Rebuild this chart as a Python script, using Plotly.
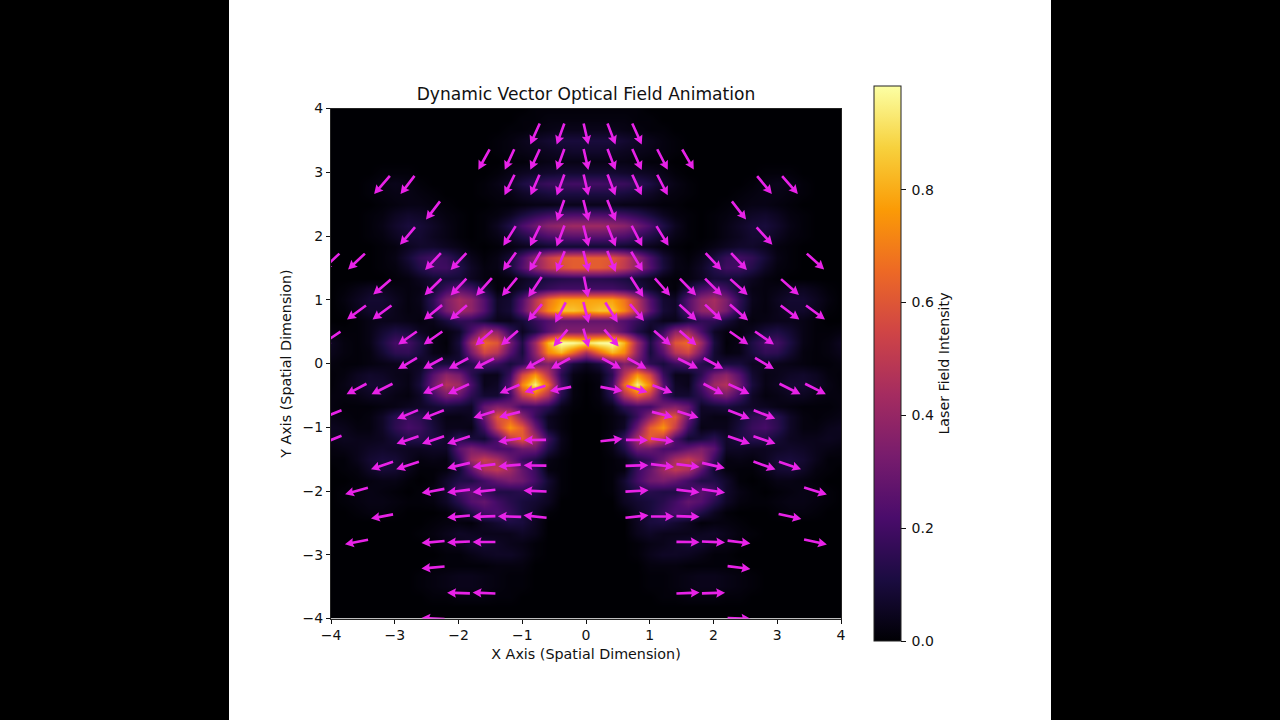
import math
import plotly.graph_objects as go

title_text = "Dynamic Vector Optical Field Animation"
x_title = "X Axis (Spatial Dimension)"
y_title = "Y Axis (Spatial Dimension)"
cbar_title = "Laser Field Intensity"
axis_ticks = [-4, -3, -2, -1, 0, 1, 2, 3, 4]
cbar_ticks = [0.0, 0.2, 0.4, 0.6, 0.8]

# Right half of the intensity picture, in percent; the left half mirrors it.
half_x = [0, .2, .4, .6, .8, 1, 1.2, 1.4, 1.6, 1.8, 2, 2.2, 2.4, 2.6, 2.8, 3, 3.2, 3.4, 3.6, 3.8, 4]
rows_y = [4, 3.83, 3.67, 3.5, 3.33, 3.17, 3, 2.83, 2.67, 2.5, 2.33, 2.17, 2, 1.83, 1.67, 1.5, 1.33, 1.17, 1, .83, .67, .5, .33, .17, 0,
          -.17, -.33, -.5, -.67, -.83, -1, -1.17, -1.33, -1.5, -1.67, -1.83, -2, -2.17, -2.33, -2.5, -2.67, -2.83, -3, -3.17, -3.33, -3.5, -3.67, -3.83, -4]
intensity_pct = [
 [1,1,1,1,1,0,0,0,0,0,0,0,0,0,0,0,0,0,0,0,0],
 [2,2,2,2,1,1,0,0,0,0,0,0,0,0,0,0,0,0,0,0,0],
 [4,4,4,3,2,1,1,0,0,0,0,0,0,0,0,0,0,0,0,0,0],
 [10,10,10,8,6,4,2,1,0,0,0,0,0,0,0,0,0,0,0,0,0],
 [7,7,6,5,4,3,2,1,0,0,0,0,0,0,0,0,0,0,0,0,0],
 [3,3,3,3,2,1,1,0,0,0,0,0,0,0,0,0,0,0,0,0,0],
 [8,8,8,7,6,5,3,1,0,0,0,0,0,0,1,1,1,0,0,0,0],
 [20,20,19,18,15,11,6,3,1,0,0,0,0,1,3,4,3,1,0,0,0],
 [11,11,11,10,8,6,3,2,1,0,0,0,1,2,3,3,2,1,0,0,0],
 [4,4,4,3,3,2,1,1,0,0,0,1,2,3,3,2,1,0,0,0,0],
 [22,22,21,19,15,10,5,2,1,0,1,2,4,6,7,5,2,1,0,0,0],
 [42,42,40,37,30,22,12,5,1,0,1,3,6,9,10,7,3,1,0,0,0],
 [25,25,24,22,17,12,7,3,1,0,1,3,5,8,8,5,2,1,0,0,0],
 [8,8,8,7,5,4,2,1,0,1,3,5,7,7,5,2,1,0,0,0,0],
 [62,62,60,52,38,22,9,3,1,4,10,17,20,16,9,3,1,0,0,0,0],
 [62,62,58,50,38,24,10,3,2,6,13,19,19,13,6,2,1,0,0,0,0],
 [14,14,13,11,8,5,2,1,2,5,9,9,8,5,2,1,0,0,0,0,0],
 [20,20,20,17,12,7,3,1,10,20,25,18,8,3,2,3,5,5,3,1,0],
 [78,78,78,68,48,24,8,6,24,38,44,34,16,4,2,5,8,8,5,2,0],
 [80,85,84,72,50,26,9,6,24,38,42,32,14,3,2,4,7,7,4,1,0],
 [28,28,28,24,17,9,4,4,10,16,16,10,4,2,3,4,4,3,1,0,0],
 [35,35,35,25,12,5,18,38,42,22,6,2,2,5,10,12,8,3,1,1,2],
 [92,98,100,82,42,12,32,60,66,42,10,1,3,12,20,20,11,3,1,2,5],
 [45,65,82,72,38,10,25,48,55,32,8,2,3,10,16,15,8,2,1,2,4],
 [5,10,22,35,28,15,10,18,22,14,8,10,10,5,5,4,3,2,1,1,2],
 [1,3,15,48,75,55,18,4,4,15,32,38,25,8,3,4,6,7,5,2,1],
 [0,2,20,65,95,72,25,6,4,22,42,47,30,10,3,5,8,8,6,3,1],
 [0,2,14,45,62,50,20,8,8,15,28,32,20,6,2,3,5,5,3,2,2],
 [0,1,4,15,20,20,32,36,28,6,8,10,8,6,5,3,2,1,1,1,2],
 [0,0,2,5,18,38,60,60,30,5,3,3,8,15,18,14,6,2,1,2,3],
 [0,0,2,6,30,62,75,52,20,3,4,4,10,18,21,15,6,2,2,4,5],
 [0,0,4,18,45,62,50,22,8,10,15,7,11,14,13,9,5,4,4,5,4],
 [0,0,3,12,30,30,22,22,28,34,26,6,6,5,5,6,7,6,4,3,2],
 [0,0,1,3,12,18,30,45,52,42,18,2,3,2,5,9,10,8,4,1,1],
 [0,0,1,2,18,28,42,50,45,26,8,2,1,1,4,8,9,6,2,1,0],
 [0,0,1,8,20,30,33,28,20,12,12,7,1,0,1,3,3,2,1,0,0],
 [0,0,1,6,12,14,12,12,18,26,20,7,3,1,0,1,2,3,2,1,0],
 [0,0,0,5,8,10,14,20,28,24,14,6,2,1,1,2,3,3,2,1,0],
 [0,0,0,1,6,10,17,22,20,12,5,1,0,0,0,1,2,2,1,0,0],
 [0,0,0,0,5,10,11,8,5,1,2,2,1,0,0,0,0,0,0,0,0],
 [0,0,0,0,4,6,4,4,4,5,6,4,2,1,0,0,0,0,0,0,0],
 [0,0,0,0,1,3,4,6,8,7,4,3,1,0,0,0,0,0,0,0,0],
 [0,0,0,0,1,4,6,6,5,3,1,1,0,0,0,0,0,0,0,0,0],
 [0,0,0,0,0,2,2,2,1,1,1,1,1,0,0,0,0,0,0,0,0],
 [0,0,0,0,0,1,1,2,3,4,4,3,2,1,0,0,0,0,0,0,0],
 [0,0,0,0,0,1,1,2,3,4,4,3,2,1,0,0,0,0,0,0,0],
 [0,0,0,0,0,0,1,1,2,2,2,1,1,0,0,0,0,0,0,0,0],
 [0,0,0,0,0,0,0,0,0,0,0,0,0,0,0,0,0,0,0,0,0],
 [0,0,0,0,0,0,0,0,0,0,0,0,0,0,0,0,0,0,0,0,0],
]

# Vector field, one entry per arrow, row by row from the top of the picture.
arrow_x = [-.8,-.4,0,.4,.8,
 -1.6,-1.2,-.8,-.4,0,.4,.8,1.2,1.6,
 -3.2,-2.8,-1.2,-.8,-.4,0,.4,.8,1.2,2.8,3.2,
 -2.4,-.4,0,.4,2.4,
 -2.8,-1.2,-.8,-.4,0,.4,.8,1.2,2.8,
 -4,-3.6,-2.4,-2,-1.2,-.8,-.4,0,.4,.8,2,2.4,3.6,
 -3.2,-2.4,-2,-1.6,-1.2,-.8,0,.8,1.2,1.6,2,2.4,3.2,
 -3.6,-3.2,-2.4,-2,-.8,-.4,0,.4,.8,1.6,2,2.4,3.2,3.6,
 -4,-2.8,-2.4,-1.6,-1.2,-.4,0,.4,1.2,1.6,2.4,2.8,
 -2.8,-2.4,-2,-1.6,-.8,-.4,.4,.8,1.6,2,2.8,
 -3.6,-3.2,-2.4,-2,-1.2,-.8,-.4,.4,.8,1.2,2,2.4,3.2,3.6,
 -4,-2.8,-2.4,-1.6,-1.2,1.2,1.6,2.4,2.8,
 -4,-2.8,-2.4,-2,-1.2,-.8,.4,.8,1.2,2.4,2.8,
 -3.2,-2.8,-2,-1.6,-1.2,-.8,.8,1.2,1.6,2,2.8,3.2,
 -3.6,-2.4,-2,-1.6,-.8,.8,1.6,2,3.6,
 -3.2,-2,-1.6,-1.2,-.8,.8,1.2,1.6,3.2,
 -3.6,-2.4,-2,-1.6,1.6,2,2.4,3.6,
 -2.4,2.4,
 -2,-1.6,1.6,2,
 -2.4,2.4]
arrow_y = [3.6]*5 + [3.2]*9 + [2.8]*11 + [2.4]*5 + [2.0]*9 + [1.6]*13 + [1.2]*13 + [.8]*14 + [.4]*12 + [0]*11 + \
 [-.4]*14 + [-.8]*9 + [-1.2]*11 + [-1.6]*12 + [-2.0]*9 + [-2.4]*9 + [-2.8]*8 + [-3.2]*2 + [-3.6]*4 + [-4.0]*2
arrow_u = [-9,-7.3,4.5,7.6,9,
 -10.7,-9,-9,-7.3,4.5,7.6,9,10,11,
 -15,-13.3,-9.5,-8.5,-7.3,4.5,7.5,9,10,14,15,
 -13.3,-7,5,8,13.5,
 -14.3,-11.7,-9.5,-7.5,5,8,10,11.5,15,
 -16,-16,-15,-15,-12.3,-10.7,-8,5,8,11,15,15,16.5,
 -16.7,-16,-15,-15,-14.3,-12.7,4,12,14.5,15.5,16,16.5,17,
 -18,-18,-17.3,-16,-13.3,-10,5,11.7,13.3,16.3,16,17.3,17.7,18,
 -18,-17.7,-17.7,-16.3,-16,-13.3,5,13.7,16,16,17.7,18,
 -18,-18.5,-18.5,-19,-18,-18,18,18,19,18.5,18,
 -19,-20,-19,-20,-19,-20,-20.3,21,20,19,19,20,20,19.7,
 -20,-20,-20.7,-20,-20,20,20,20.5,20.5,
 -20,-21,-21,-21.7,-21.7,-21,21,21,22,21,21,
 -21,-21.7,-21.7,-21.7,-21.3,-21.7,21.7,22,22,21.7,21,21,
 -21.7,-21.7,-21.7,-21.7,-22,22,22,22,21.7,
 -21,-21.7,-21.7,-22.3,-22,22,22,22,21.7,
 -22,-22,-21.7,-21.7,22,22,21.7,21.7,
 -22,21.7,
 -21.7,-21.7,22,22,
 -22,21.7]
arrow_v = [-20,-20,-20,-20,-20,
 -19.3,-19.5,-19.5,-20,-20,-20,-20,-19.5,-19,
 -17.3,-17.3,-19.5,-19.5,-20,-20,-20,-19.5,-19.5,-17,-17,
 -17.3,-20,-20,-20,-17.3,
 -16.7,-18.7,-19.5,-20,-20,-20,-19.5,-18.7,-16.5,
 -15,-15,-16,-16,-17.3,-18.3,-19.5,-20,-20,-18.5,-16,-16,-15,
 -14.3,-15.7,-16,-16.7,-17.3,-19,-20,-19,-16.5,-16,-16,-15,-15,
 -13.3,-13.3,-14,-14,-16,-19.3,-20,-19,-16,-15,-15,-15,-13.3,-13.3,
 -12,-12.3,-12.3,-14.3,-14,-16,-18,-16,-14,-14,-12.3,-12.3,
 -10.5,-10,-10,-9.5,-10,-10,-10,-10,-9.5,-10,-10.5,
 -10,-10,-8.7,-9.3,-8,-6,-4,-4,-6,-7,-10,-9.3,-10,-10,
 -8,-8.3,-8,-6,-5,-5,-6,-8,-8,
 -8,-7,-7,-7,-3.3,-.3,2.3,-.3,-2.7,-7,-7,
 -7,-7,-5,-2.7,-1.7,.3,.7,-2.7,-2.7,-5,-7.7,-7,
 -6,-4,-2.7,-2.3,1,1.3,-2.7,-3.3,-6.7,
 -4,-2,-.7,.7,2.3,2.3,0,-.7,-4.7,
 -4.3,-2,-1,0,-.3,-1,-2.7,-4.7,
 -2,-2.7,
 .7,1,1,.7,
 1,-.7]

quiver_scale = 0.0165   # data units per vector unit
head_length = 7.5
head_half_width = 4.5
shaft_half_width = 1.25
arrow_color = "#e822e8"

full_x = [-v for v in half_x[::-1][:-1]] + half_x
full_z = [[p / 100 for p in (row[::-1][:-1] + row)] for row in intensity_pct]

# Build quiver polygons (pivot at the middle of each arrow).
poly_x, poly_y = [], []
for x0, y0, u, v in zip(arrow_x, arrow_y, arrow_u, arrow_v):
    n = math.hypot(u, v)
    ex, ey = u / n, v / n
    px, py = -ey, ex
    outline = [(-n / 2, shaft_half_width), (n / 2 - head_length, shaft_half_width),
               (n / 2 - head_length - 1.0, head_half_width), (n / 2, 0),
               (n / 2 - head_length - 1.0, -head_half_width), (n / 2 - head_length, -shaft_half_width),
               (-n / 2, -shaft_half_width), (-n / 2, shaft_half_width)]
    for a, b in outline:
        poly_x.append(x0 + (a * ex + b * px) * quiver_scale)
        poly_y.append(y0 + (a * ey + b * py) * quiver_scale)
    poly_x.append(None)
    poly_y.append(None)

W, H = 1280, 720
font = "DejaVu Sans"

fig = go.Figure()
fig.add_trace(go.Heatmap(
    x=full_x, y=rows_y, z=full_z, colorscale="Inferno", zmin=0, zmax=0.984,
    zsmooth="best", hoverinfo="skip",
    colorbar=dict(
        x=874 / W, xanchor="left", xpad=0, y=(720 - 641) / H, yanchor="bottom", ypad=0,
        thickness=27, thicknessmode="pixels", len=555, lenmode="pixels",
        outlinecolor="#222", outlinewidth=1,
        tickvals=cbar_ticks, ticktext=[f"\u2009{t:.1f}" for t in cbar_ticks],
        ticks="outside", ticklen=5, tickcolor="#111", tickwidth=1,
        tickfont=dict(family=font, size=14, color="#111"),
        title=dict(text=cbar_title, side="right", font=dict(family=font, size=14.2, color="#111")),
    ),
))
fig.add_trace(go.Scatter(
    x=poly_x, y=poly_y, mode="lines", fill="toself", fillcolor=arrow_color,
    line=dict(width=0, color=arrow_color), hoverinfo="skip", showlegend=False,
))

axis_common = dict(
    range=[-4, 4], tickvals=axis_ticks, ticks="outside", ticklen=4, tickwidth=1, tickcolor="#111",
    showgrid=False, zeroline=False, showline=True, linecolor="#222", linewidth=1, mirror=True,
    tickfont=dict(family=font, size=14, color="#111"),
)
fig.update_layout(
    width=W, height=H, margin=dict(l=0, r=0, t=0, b=0, autoexpand=False), autosize=False,
    paper_bgcolor="#000000", plot_bgcolor="#000004",
    font=dict(family=font, color="#111"), showlegend=False,
    shapes=[dict(type="rect", xref="paper", yref="paper", x0=229 / W, x1=1051 / W, y0=0, y1=1,
                 fillcolor="#ffffff", line=dict(width=0), layer="below")],
    title=dict(text=title_text, x=586 / W, xanchor="center", y=1 - 94 / H, yanchor="middle",
               font=dict(family=font, size=17.1, color="#111")),
    xaxis=dict(axis_common, domain=[331 / W, 841 / W],
               title=dict(text=x_title, font=dict(family=font, size=14.3, color="#111"), standoff=6)),
    yaxis=dict(axis_common, domain=[(720 - 618.5) / H, (720 - 108.5) / H],
               title=dict(text=y_title, font=dict(family=font, size=14.3, color="#111"), standoff=7)),
)
fig.write_html("out.html", config={"displayModeBar": False},
               post_script="document.body.style.margin='0';document.body.style.background='#000';")
